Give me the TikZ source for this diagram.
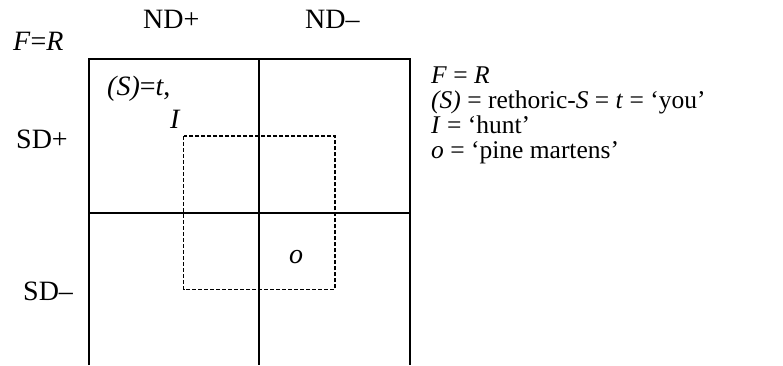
\documentclass[tikz,border=0pt]{standalone}
\usepackage{fontspec}
\setmainfont{Liberation Serif}
\begin{document}
\begin{tikzpicture}[x=1pt,y=-1pt,
  gridline/.style={line width=2pt},
  dashbox/.style={line width=1.4pt, dash pattern=on 4pt off 2pt},
  biglab/.style={inner sep=0pt, anchor=base west, font=\fontsize{28}{32}\selectfont},
  keylab/.style={inner sep=0pt, anchor=base west, font=\fontsize{25.5}{25}\selectfont}]
\useasboundingbox (0,0) rectangle (783,365);
% grid
\coordinate (tl) at (89,59);
\coordinate (tm) at (259,59);
\coordinate (tr) at (410,59);
\coordinate (bl) at (89,365);
\coordinate (bm) at (259,365);
\coordinate (br) at (410,365);
\coordinate (ml) at (89,213);
\coordinate (mr) at (410,213);
\draw[gridline] (bl) -- (tl) -- (tr) -- (br);
\draw[gridline] (tm) -- (bm);
\draw[gridline] (ml) -- (mr);
% dashed box
\draw[dashbox] (183.7,136) rectangle (335,289.5);
% labels
\node[biglab] (fr) at (13,50.7) {\textit{F}=\textit{R}};
\node[biglab] (ndp) at (143,28.3) {ND+};
\node[biglab] (ndm) at (305,28.3) {ND–};
\node[biglab] (sdp) at (16,148) {SD+};
\node[biglab] (sdm) at (23,300.7) {SD–};
\node[biglab] (st) at (107,95) {\textit{(S)}=\textit{t},};
\node[biglab] (ii) at (170,128) {\textit{I}};
\node[biglab] (oo) at (289,263) {\textit{o}};
% key
\node[keylab] (k1) at (431,83.5) {\textit{F} = \textit{R}};
\node[keylab] (k2) at (431,108.5) {\textit{(S)} = rethoric-\textit{S} = \textit{t} = ‘you’};
\node[keylab] (k3) at (431,133.5) {\textit{I} = ‘hunt’};
\node[keylab] (k4) at (431,158.5) {\textit{o} = ‘pine martens’};
\end{tikzpicture}
\end{document}
